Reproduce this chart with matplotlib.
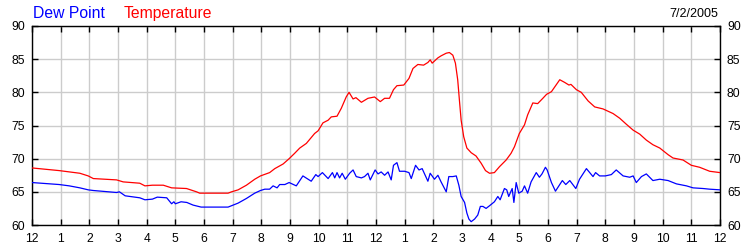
import matplotlib
matplotlib.use("Agg")
import matplotlib.pyplot as plt

plt.rcParams['font.family'] = ['Liberation Sans', 'DejaVu Sans']

# ---- data (hours since midnight, degrees F) ----
temp_hours = [0, 0.95, 1.67, 1.96, 2.14, 2.95, 3.18, 3.76, 3.94, 4.2, 4.58, 4.87, 5.39, 5.74,
              5.85, 6.2, 6.84, 6.96, 7.19, 7.48, 7.77, 7.97, 8.29, 8.47, 8.76, 8.97, 9.16,
              9.34, 9.57, 9.86, 9.98, 10.15, 10.33, 10.44, 10.64, 10.79, 10.96, 11.06, 11.2,
              11.3, 11.49, 11.72, 11.95, 12.15, 12.30, 12.47, 12.61, 12.73, 12.97, 13.15,
              13.29, 13.46, 13.66, 13.81, 13.89, 13.96, 14.16, 14.27, 14.45, 14.56, 14.68,
              14.77, 14.85, 14.91, 14.97, 15.06, 15.17, 15.32, 15.49, 15.67, 15.82, 15.96,
              16.13, 16.31, 16.54, 16.71, 16.83, 17.0, 17.18, 17.29, 17.47, 17.64, 17.82,
              17.95, 18.12, 18.41, 18.58, 18.73, 18.8, 18.99, 19.16, 19.40, 19.63, 19.92,
              20.27, 20.5, 20.73, 20.97, 21.2, 21.43, 21.66, 21.9, 22.19, 22.36, 22.71, 23.0,
              23.29, 23.64, 24.0]
temp_values = [68.6, 68.2, 67.8, 67.4, 67.0, 66.8, 66.5, 66.3, 65.9, 66.0, 66.0, 65.6, 65.5, 65.0,
               64.8, 64.8, 64.8, 65.0, 65.3, 66.0, 66.9, 67.4, 67.9, 68.5, 69.2, 70.0, 70.8,
               71.6, 72.3, 73.8, 74.2, 75.4, 75.8, 76.3, 76.4, 77.6, 79.3, 80.0, 79.0,
               79.2, 78.5, 79.1, 79.3, 78.6, 79.1, 79.1, 80.4, 81.0, 81.1, 82.1,
               83.6, 84.2, 84.1, 84.5, 84.9, 84.4, 85.2, 85.5, 85.9, 86.0, 85.6,
               84.4, 81.9, 78.8, 75.8, 73.3, 71.6, 70.9, 70.4, 69.3, 68.2, 67.8,
               67.9, 68.8, 69.8, 70.8, 71.8, 73.8, 75.1, 76.6, 78.4, 78.3, 79.1,
               79.7, 80.1, 81.9, 81.5, 81.1, 81.2, 80.4, 80.0, 78.7, 77.8, 77.5,
               76.8, 76.1, 75.2, 74.3, 73.7, 72.8, 72.1, 71.6, 70.6, 70.1, 69.8, 69.0,
               68.7, 68.1, 67.9]

dew_hours = [0, 0.95, 1.3, 1.67, 1.96, 2.14, 2.95, 3.05, 3.25, 3.76, 3.94, 4.2, 4.37, 4.7,
             4.87, 4.95, 5.0, 5.2, 5.4, 5.62, 5.9, 6.84, 6.96, 7.19, 7.48, 7.77, 7.97, 8.12,
             8.29, 8.41, 8.55, 8.64, 8.82, 8.97, 9.22, 9.45, 9.74, 9.9, 9.98, 10.13, 10.33,
             10.48, 10.56, 10.64, 10.73, 10.82, 10.93, 11.08, 11.2, 11.31, 11.49, 11.6, 11.72,
             11.8, 11.97, 12.07, 12.18, 12.3, 12.42, 12.53, 12.61, 12.73, 12.82, 13.0, 13.15,
             13.23, 13.38, 13.50, 13.61, 13.81, 13.89, 14.04, 14.16, 14.27, 14.45, 14.54,
             14.68, 14.80, 14.89, 14.97, 15.09, 15.17, 15.24, 15.32, 15.44, 15.55, 15.64,
             15.73, 15.84, 15.96, 16.13, 16.25, 16.33, 16.48, 16.56, 16.63, 16.75, 16.81,
             16.89, 16.98, 17.10, 17.18, 17.29, 17.41, 17.59, 17.70, 17.79, 17.91, 17.97,
             18.12, 18.26, 18.5, 18.62, 18.76, 18.97, 19.1, 19.34, 19.57, 19.66, 19.8, 20.0,
             20.21, 20.38, 20.62, 20.85, 20.97, 21.08, 21.26, 21.43, 21.66, 21.9, 22.19,
             22.48, 22.83, 23.06, 23.41, 23.64, 24.0]
dew_values = [66.4, 66.1, 65.9, 65.6, 65.3, 65.2, 64.9, 65.0, 64.4, 64.1, 63.8, 63.9, 64.2, 64.1,
              63.2, 63.5, 63.2, 63.5, 63.4, 63.0, 62.7, 62.7, 62.9, 63.3, 64.0, 64.8, 65.2, 65.4,
              65.4, 65.9, 65.6, 66.1, 66.1, 66.4, 65.9, 67.4, 66.6, 67.6, 67.3, 67.9, 67.0,
              67.9, 67.1, 67.9, 67.1, 67.8, 66.9, 67.8, 68.3, 67.3, 67.1, 67.3, 67.8,
              66.8, 68.3, 67.7, 68.0, 67.5, 68.0, 66.8, 69.0, 69.4, 68.1, 68.1, 67.9,
              67.0, 69.0, 68.3, 68.5, 66.6, 67.8, 66.9, 67.5, 66.5, 65.0, 67.3,
              67.3, 67.4, 66.0, 64.3, 63.4, 61.8, 60.9, 60.5, 60.9, 61.5, 62.8,
              62.8, 62.5, 62.9, 63.5, 64.3, 63.8, 65.5, 65.3, 64.3, 65.5, 63.4,
              66.4, 64.8, 65.1, 65.9, 64.8, 66.5, 67.9, 67.2, 67.7, 68.7, 68.3,
              66.4, 65.1, 66.7, 66.1, 66.7, 65.5, 66.9, 68.5, 67.3, 67.9, 67.4, 67.4,
              67.6, 68.3, 67.4, 67.2, 67.4, 66.4, 67.3, 67.7, 66.7, 66.9, 66.7,
              66.2, 65.9, 65.6, 65.5, 65.4, 65.3]

x_ticks = list(range(0, 25))
x_labels = ['12', '1', '2', '3', '4', '5', '6', '7', '8', '9', '10', '11',
            '12', '1', '2', '3', '4', '5', '6', '7', '8', '9', '10', '11', '12']
y_ticks = [60, 65, 70, 75, 80, 85, 90]
date_label = '7/2/2005'

W, H = 750, 250
fig = plt.figure(figsize=(W / 100, H / 100), dpi=100)
ax = fig.add_axes([32 / W, 1 - 225 / H, (720 - 32) / W, (225 - 26) / H])

ax.plot(temp_hours, temp_values, color='#ff0000', lw=0.9, zorder=3)
ax.plot(dew_hours, dew_values, color='#0000ff', lw=0.9, zorder=3)

ax.set_xlim(0, 24)
ax.set_ylim(60, 90)
ax.set_xticks(x_ticks)
ax.set_xticklabels(x_labels)
ax.set_yticks(y_ticks)
ax.grid(True, color='#cccccc', lw=1.0, zorder=0)
ax.set_axisbelow(True)

ax.tick_params(axis='both', direction='in', length=4, width=1, color='black',
               labelsize=8.7, top=True, right=True, labelright=True, pad=5)
ax.tick_params(axis='x', pad=6)
for s in ax.spines.values():
    s.set_color('black')
    s.set_linewidth(1)

fig.text(33 / W, 1 - 18 / H, 'Dew Point', color='#0000ff', fontsize=11.3, va='baseline', ha='left')
fig.text(124 / W, 1 - 18 / H, 'Temperature', color='#ff0000', fontsize=11.3, va='baseline', ha='left')
fig.text(718 / W, 1 - 17 / H, date_label, color='black', fontsize=9, va='baseline', ha='right')

fig.savefig('out.png', dpi=100)
